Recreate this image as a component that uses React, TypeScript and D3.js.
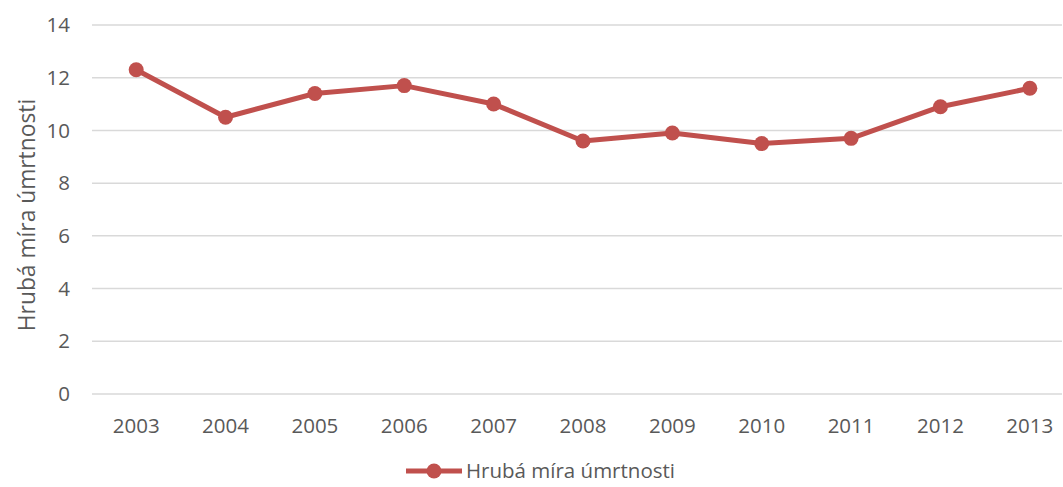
import React from "react";
import * as d3 from "d3";

const years = ["2003", "2004", "2005", "2006", "2007", "2008", "2009", "2010", "2011", "2012", "2013"];
const mortality = [12.3, 10.5, 11.4, 11.7, 11.0, 9.6, 9.9, 9.5, 9.7, 10.9, 11.6];
const yTicks = [0, 2, 4, 6, 8, 10, 12, 14];
const seriesName = "Hrubá míra úmrtnosti";
const axisTitle = "Hrubá míra úmrtnosti";

const W = 1063;
const H = 487;
const FONT = "'Open Sans', 'Liberation Sans', sans-serif";
const TEXT = "#595959";
const GRID = "#D9D9D9";
const RED = "#C0504D";

export default function App() {
  const x = d3.scaleBand<string>().domain(years).range([91.5, 1074.5]);
  const y = d3.scaleLinear().domain([0, 14]).range([394, 25]);
  const cx = (d: string) => (x(d) ?? 0) + x.bandwidth() / 2;

  const line = d3
    .line<number>()
    .x((_, i) => cx(years[i]))
    .y((v) => y(v));

  return (
    <svg
      width={W}
      height={H}
      style={{ position: "absolute", left: 0, top: 0, background: "#fff" }}
      fontFamily={FONT}
    >
      {yTicks.map((t) => (
        <g key={t}>
          <line x1={92} x2={1062} y1={y(t)} y2={y(t)} stroke={GRID} strokeWidth={1.5} />
          <text x={70} y={y(t)} dy="0.35em" textAnchor="end" fontSize={20.5} fill={TEXT}>
            {t}
          </text>
        </g>
      ))}
      {years.map((yr) => (
        <text key={yr} x={cx(yr)} y={426} dy="0.35em" textAnchor="middle" fontSize={20.5} fill={TEXT}>
          {yr}
        </text>
      ))}
      <text
        transform={`translate(27,${215}) rotate(-90)`}
        dy="0.35em"
        textAnchor="middle"
        fontSize={22.8}
        fill={TEXT}
      >
        {axisTitle}
      </text>

      <path d={line(mortality) ?? ""} fill="none" stroke={RED} strokeWidth={5} strokeLinejoin="round" />
      {mortality.map((v, i) => (
        <circle key={years[i]} cx={cx(years[i])} cy={y(v)} r={7.5} fill={RED} />
      ))}

      <g>
        <line x1={406} x2={462} y1={471} y2={471} stroke={RED} strokeWidth={5} />
        <circle cx={434} cy={471} r={7.5} fill={RED} />
        <text x={466} y={471} dy="0.35em" fontSize={20.5} fill={TEXT}>
          {seriesName}
        </text>
      </g>
    </svg>
  );
}
